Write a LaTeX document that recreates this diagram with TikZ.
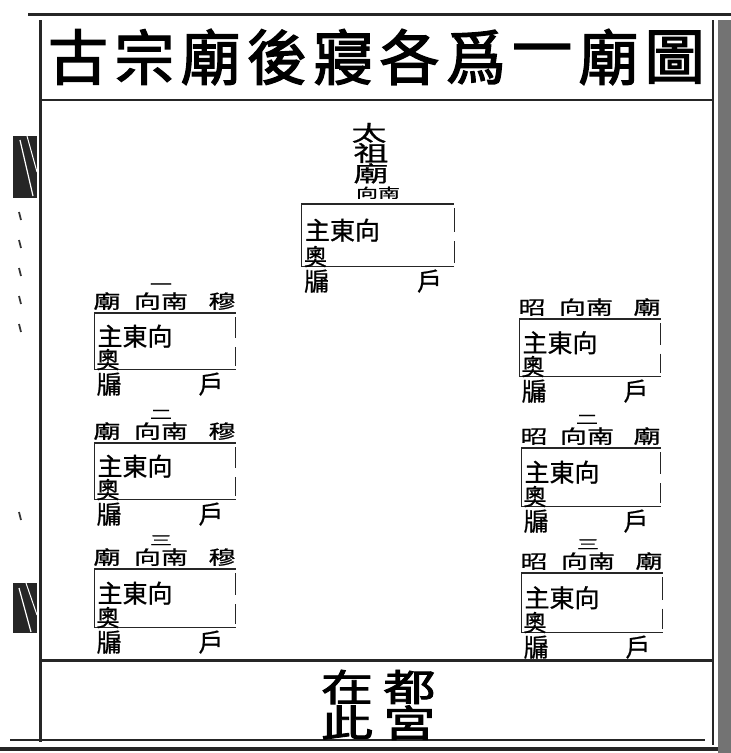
\documentclass[tikz,border=0pt]{standalone}
\usepackage{fontspec}
\setmainfont{Noto Sans CJK TC}[FakeBold=0.8]
\newfontfamily\heavyfont{Noto Sans CJK TC}[FakeBold=2.2]
\usetikzlibrary{positioning}

\begin{document}
\begin{tikzpicture}[x=1pt,y=-1pt,
  frame/.style={line width=1.3pt,color=black!85},
  heavy/.style={line width=3pt,color=black!85},
  word/.style={inner sep=0pt,font=\fontsize{25}{25}\selectfont},
  flat/.style={inner sep=0pt,font=\fontsize{27}{27}\selectfont,yscale=0.7},
  tiny/.style={inner sep=0pt,font=\fontsize{22}{22}\selectfont,yscale=0.6},
  big/.style={inner sep=0pt,font=\fontsize{35}{35}\selectfont,yscale=0.62},
  caption/.style={inner sep=0pt,font=\heavyfont\fontsize{52}{52}\selectfont,yscale=0.72}]
\useasboundingbox[fill=white] (0,0) rectangle (731,753);
   \newcommand{\shrine}[5]{
        \node[minimum width=#4,minimum height=#5,anchor=north,inner sep=0pt] (#1) at (#2,#3) {};
        \draw[frame] (#1.south east) -- (#1.south west) -- (#1.north west) -- (#1.north east);
        \draw[frame] ([yshift=-4pt]#1.north east) -- ([yshift=3pt]#1.east);
        \draw[frame] ([yshift=-6pt]#1.east) -- ([yshift=3pt]#1.south east);
        \node[word,anchor=west] (#1-zhu) at ([xshift=3pt,yshift=5pt]#1.west) {主東向};
        \node[word,font=\fontsize{23}{23}\selectfont,anchor=south west] (#1-ao) at ([xshift=2pt,yshift=-1pt]#1.south west) {奧};
        \node[word,below right=3pt and 2pt of #1.south west] (#1-you) {牖};
        \node[word,below left=3pt and 12pt of #1.south east] (#1-hu) {戶};
    }
    \newcommand{\tags}[4]{
        \node[flat,above right=3pt and -1pt of #1.north west] (#1-l) {#2};
        \node[flat,above left=3pt and 0pt of #1.north east] (#1-r) {#3};
        \node[flat,above=3pt of #1.north,xshift=-4pt] (#1-m) {向南};
        \node[tiny,above=3pt of #1-m] (#1-n) {#4};
    }
% outer frame
\draw[heavy] (28,14) -- (731,14);
\draw[heavy] (40,20) -- (40,742);
\draw[frame,line width=2pt] (713,20) -- (713,745);
\draw[frame,line width=2pt] (40,100) -- (713,100);
\draw[heavy] (40,660) -- (713,660);
\draw[frame] (10,740) -- (705,740);
\draw[heavy,line width=4pt] (0,749) -- (731,749);
\fill[black!55] (718,20) rectangle (731,753);
% fish tails on the fold
\fill[black!85] (13,136) -- (37,136) -- (37,198) -- (13,198) -- cycle;
\draw[white,line width=1.2pt] (20,140) -- (33,196);
\draw[white,line width=1pt] (27,136) -- (37,172);
\fill[black!85] (13,583) -- (37,583) -- (37,633) -- (13,633) -- cycle;
\draw[white,line width=1.2pt] (19,588) -- (31,632);
\draw[white,line width=1pt] (26,583) -- (37,615);
\foreach \y in {212,240,268,296,324,512}
  \draw[line width=1.8pt,black!80] (19,\y) -- (21,\y+8);
% title
\foreach \c [count=\i] in {古,宗,廟,後,寢,各,爲,一,廟,圖}
  \node[inner sep=0pt,font=\heavyfont\fontsize{60}{60}\selectfont] (t\i) at (78+66.3*\i-66.3,57) {\c};
% great ancestor
\shrine{tz}{378}{204}{152}{62}
\node[tiny,above=5pt of tz.north] (tz-m) {向南};
\node[big,above=3pt of tz-m,xshift=-7pt] (tz-c) {廟};
\node[big,above=0pt of tz-c] (tz-b) {祖};
\node[big,above=0pt of tz-b,xshift=-2pt] (tz-a) {太};
% mu row
\shrine{mu1}{165}{313}{141}{56}
\tags{mu1}{廟}{穆}{一}
\shrine{mu2}{165}{443}{141}{56}
\tags{mu2}{廟}{穆}{二}
\shrine{mu3}{165}{569}{141}{58}
\tags{mu3}{廟}{穆}{三}
% zhao row
\shrine{zh1}{590}{319}{141}{57}
\tags{zh1}{昭}{廟}{}
\shrine{zh2}{591}{448}{139}{58}
\tags{zh2}{昭}{廟}{二}
\shrine{zh3}{592}{573}{141}{59}
\tags{zh3}{昭}{廟}{三}
% capital palace
\node[caption] (zai) at (347,687) {在};
\node[caption,right=10pt of zai] (du) {都};
\node[caption,below=1pt of zai] (ci) {此};
\node[caption,below=1pt of du] (gong) {宮};
\end{tikzpicture}
\end{document}
